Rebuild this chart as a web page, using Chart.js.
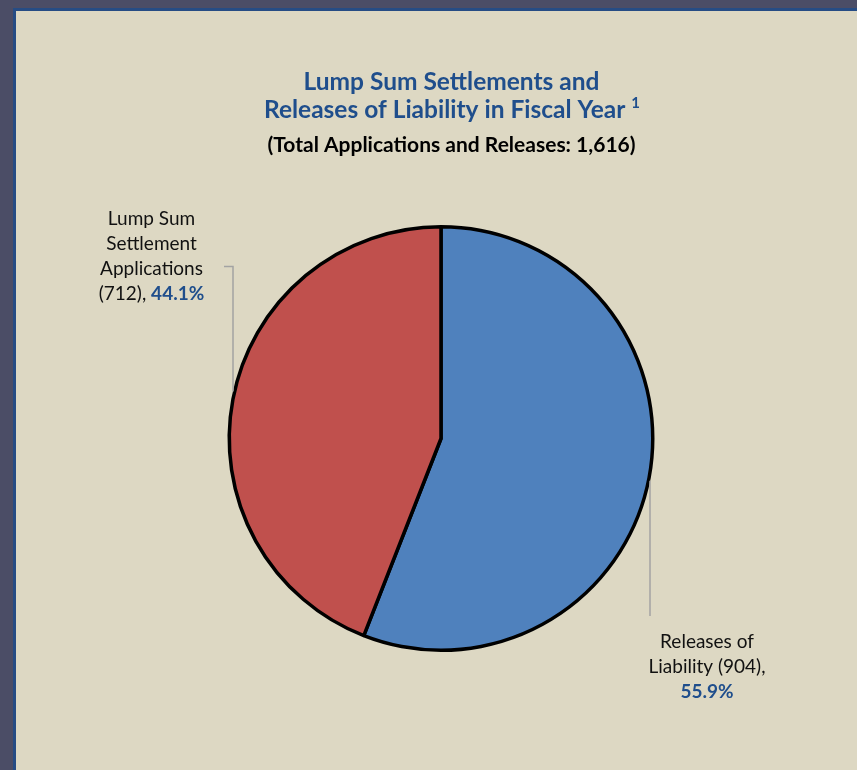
<!DOCTYPE html>
<html>
<head>
<meta charset="utf-8">
<title>Lump Sum Settlements and Releases of Liability</title>
<script src="https://cdn.jsdelivr.net/npm/chart.js@4/dist/chart.umd.min.js"></script>
<style>
  html, body { margin: 0; padding: 0; background: #4b4d66; }
  canvas { display: block; }
</style>
</head>
<body>
<canvas id="pie" width="857" height="770"></canvas>
<script>
// Fiscal-year totals by type
const categories = ['Releases of Liability', 'Lump Sum Settlement Applications'];
const counts = [904, 712];
const percentLabels = ['55.9%', '44.1%'];
const titleLines = ['Lump Sum Settlements and', 'Releases of Liability in Fiscal Year'];
const titleNote = '1';
const subtitleText = '(Total Applications and Releases: 1,616)';

const FONT = 'Lato, "Open Sans", "Liberation Sans", sans-serif';
const TITLE_BLUE = '#1f4e8c';
const LEADER = '#a3a3a3';
const LABEL_SIZE = 19;

// Panel, titles and leader-line labels around the pie
const decorations = {
  id: 'decorations',
  beforeDraw(chart) {
    const ctx = chart.ctx;
    ctx.save();
    ctx.fillStyle = '#4b4d66';
    ctx.fillRect(0, 0, chart.width, chart.height);
    ctx.fillStyle = '#ddd8c3';
    ctx.fillRect(14, 9, chart.width, chart.height);
    ctx.strokeStyle = '#264c84';
    ctx.lineWidth = 3;
    ctx.strokeRect(14.5, 9.5, chart.width + 20, chart.height + 20);
    ctx.restore();
  },
  afterDraw(chart) {
    const ctx = chart.ctx;
    const arcs = chart.getDatasetMeta(0).data;
    const cx = arcs[0].x, cy = arcs[0].y;
    const r = arcs[0].outerRadius + 1.5;
    const reg = LABEL_SIZE + 'px ' + FONT;
    const bold = 'bold ' + LABEL_SIZE + 'px ' + FONT;
    ctx.save();

    // titles
    ctx.textAlign = 'center';
    ctx.textBaseline = 'alphabetic';
    ctx.fillStyle = TITLE_BLUE;
    ctx.font = 'bold 24.5px ' + FONT;
    ctx.fillText(titleLines[0], 451.5, 90);
    const w2 = ctx.measureText(titleLines[1]).width;
    ctx.font = 'bold 15px ' + FONT;
    const wn = ctx.measureText(titleNote).width;
    const start2 = 452 - (w2 + 6 + wn) / 2;
    ctx.textAlign = 'left';
    ctx.font = 'bold 24.5px ' + FONT;
    ctx.fillText(titleLines[1], start2, 118);
    ctx.font = 'bold 15px ' + FONT;
    ctx.fillText(titleNote, start2 + w2 + 6, 108);
    ctx.textAlign = 'center';
    ctx.fillStyle = '#000000';
    ctx.font = 'bold 21px ' + FONT;
    ctx.fillText(subtitleText, 451.5, 152);

    // leader lines, attached to the pie rim
    ctx.strokeStyle = LEADER;
    ctx.lineWidth = 1.5;
    const lx = 233;
    const ly = cy - Math.sqrt(r * r - (lx - cx) * (lx - cx));
    ctx.beginPath();
    ctx.moveTo(224, 266.5);
    ctx.lineTo(lx, 266.5);
    ctx.lineTo(lx, ly);
    ctx.stroke();
    const rx = 650;
    const ry = cy + Math.sqrt(r * r - (rx - cx) * (rx - cx));
    ctx.beginPath();
    ctx.moveTo(rx, ry);
    ctx.lineTo(rx, 616);
    ctx.stroke();

    // left label: Lump Sum Settlement Applications
    ctx.font = reg;
    ctx.fillStyle = '#111111';
    ctx.fillText('Lump Sum', 151.5, 225);
    ctx.fillText('Settlement', 151.5, 250);
    ctx.fillText('Applications', 151.5, 274.5);
    const part1 = '(' + counts[1] + '), ';
    const wp1 = ctx.measureText(part1).width;
    ctx.font = bold;
    const wp2 = ctx.measureText(percentLabels[1]).width;
    const s = 151.5 - (wp1 + wp2) / 2;
    ctx.textAlign = 'left';
    ctx.font = reg;
    ctx.fillText(part1, s, 299.5);
    ctx.font = bold;
    ctx.fillStyle = TITLE_BLUE;
    ctx.fillText(percentLabels[1], s + wp1, 299.5);

    // right label: Releases of Liability
    ctx.textAlign = 'center';
    ctx.fillStyle = '#111111';
    ctx.font = reg;
    ctx.fillText('Releases of', 707, 647.5);
    ctx.fillText('Liability (' + counts[0] + '),', 707, 673);
    ctx.font = bold;
    ctx.fillStyle = TITLE_BLUE;
    ctx.fillText(percentLabels[0], 707, 697.5);
    ctx.restore();
  }
};

new Chart(document.getElementById('pie'), {
  type: 'pie',
  data: {
    labels: categories,
    datasets: [{
      data: counts,
      backgroundColor: ['#4f81bd', '#c0504d'],
      borderColor: '#000000',
      borderWidth: 3.5,
      hoverOffset: 0
    }]
  },
  options: {
    responsive: false,
    animation: false,
    devicePixelRatio: 1,
    events: [],
    layout: { padding: { left: 227.5, top: 225, right: 202.5, bottom: 118 } },
    plugins: {
      legend: { display: false },
      tooltip: { enabled: false },
      title: { display: false }
    }
  },
  plugins: [decorations]
});
</script>
</body>
</html>
